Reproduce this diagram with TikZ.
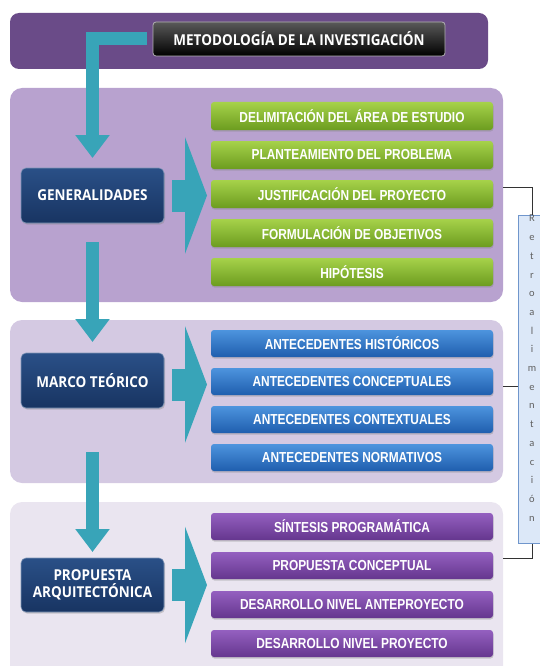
\documentclass[tikz,border=0pt]{standalone}
\usepackage{fontspec}
\setmainfont{Liberation Sans}
\newfontfamily\itemfont[FakeStretch=0.82]{Liberation Sans}
\newfontfamily\topicfont[FakeStretch=0.9]{Open Sans}
\newfontfamily\retrofont{Carlito}
\usetikzlibrary{positioning,arrows.meta,shadows}

\definecolor{bandpurple}{HTML}{6A4B88}
\definecolor{panelA}{HTML}{B8A2CF}
\definecolor{panelB}{HTML}{D4C9E2}
\definecolor{panelC}{HTML}{EAE5F0}
\definecolor{navytop}{HTML}{2A5087}
\definecolor{navybot}{HTML}{183462}
\definecolor{greentop}{HTML}{A6D24A}
\definecolor{greenbot}{HTML}{6C9C1F}
\definecolor{bluetop}{HTML}{4D94DE}
\definecolor{bluebot}{HTML}{1F5EAE}
\definecolor{violettop}{HTML}{9460C0}
\definecolor{violetbot}{HTML}{65368E}
\definecolor{arrowteal}{HTML}{38A4B8}
\definecolor{retrofill}{HTML}{DCE8F8}
\definecolor{retroline}{HTML}{7096CC}

\begin{document}
\begin{tikzpicture}[x=1pt, y=-1pt,
  node distance=11pt,
  every node/.style = {inner sep=0pt, outer sep=0pt, align=center},
  titlebox/.style = {rectangle, rounded corners=3pt, draw=gray!60, line width=0.8pt,
    top color=gray!70!black, bottom color=black,
    minimum width=292pt, minimum height=34pt,
    text=white, font=\topicfont\bfseries\fontsize{15}{17}\selectfont},
  topic/.style = {rectangle, rounded corners=5pt, draw=navytop!60!white, line width=0.6pt,
    top color=navytop, bottom color=navybot,
    minimum width=143pt, minimum height=55pt,
    drop shadow={opacity=0.35, shadow xshift=1pt, shadow yshift=-1.5pt},
    text=white, font=\topicfont\bfseries\fontsize{15}{17}\selectfont},
  item/.style = {rectangle, rounded corners=3pt,
    minimum width=282pt, minimum height=27pt,
    drop shadow={opacity=0.35, shadow xshift=0.5pt, shadow yshift=-1.5pt},
    text=white, font=\itemfont\bfseries\fontsize{14.5}{16}\selectfont},
  gitem/.style = {item, top color=greentop, bottom color=greenbot, minimum height=28pt},
  bitem/.style = {item, top color=bluetop, bottom color=bluebot},
  pitem/.style = {item, top color=violettop, bottom color=violetbot},
  downarrow/.style = {draw=arrowteal, line width=13pt,
    -{Triangle[width=33pt, length=23pt, fill=arrowteal]}},
  sidearrow/.style = {draw=arrowteal, line width=32pt,
    -{Triangle[width=116pt, length=22pt, fill=arrowteal]}},
  retrobox/.style = {rectangle, fill=retrofill, draw=retroline, line width=0.8pt,
    minimum width=28pt, minimum height=325pt,
    text=gray!75!black, font=\retrofont\fontsize{10.5}{18.7}\selectfont},
  link/.style = {draw=gray!40!black, line width=0.8pt}]

  \useasboundingbox (0,0) rectangle (539,666);

  % backgrounds
  \fill[bandpurple, rounded corners=9pt] (10,13) rectangle (488,69);
  \fill[panelA, rounded corners=12pt] (10,88) rectangle (503,302);
  \fill[panelB, rounded corners=12pt] (10,320) rectangle (503,483);
  \fill[panelC, rounded corners=12pt] (10,502) rectangle (503,690);

  \node[titlebox] (title) at (299,39) {METODOLOGÍA DE LA INVESTIGACIÓN};

  % left column
  \node[topic] (gen) at (92.5,195.5) {GENERALIDADES};
  \node[topic] (marco) at (92.5,380.5) {MARCO TEÓRICO};
  \node[topic, minimum height=54pt] (prop) at (92.5,585) {PROPUESTA\\ARQUITECTÓNICA};

  % generalidades
  \node[gitem] (delim) at (352,116) {DELIMITACIÓN DEL ÁREA DE ESTUDIO};
  \node[gitem, below=of delim] (plant) {PLANTEAMIENTO DEL PROBLEMA};
  \node[gitem, below=of plant] (just) {JUSTIFICACIÓN DEL PROYECTO};
  \node[gitem, below=of just] (formul) {FORMULACIÓN DE OBJETIVOS};
  \node[gitem, below=of formul] (hipo) {HIPÓTESIS};

  % marco teorico
  \node[bitem] (historicos) at (352,343.5) {ANTECEDENTES HISTÓRICOS};
  \node[bitem, below=of historicos] (conceptuales) {ANTECEDENTES CONCEPTUALES};
  \node[bitem, below=of conceptuales] (contextuales) {ANTECEDENTES CONTEXTUALES};
  \node[bitem, below=of contextuales] (normativos) {ANTECEDENTES NORMATIVOS};

  % propuesta
  \node[pitem] (sintesis) at (352,526.5) {SÍNTESIS PROGRAMÁTICA};
  \node[pitem, below=12pt of sintesis] (propconc) {PROPUESTA CONCEPTUAL};
  \node[pitem, below=12pt of propconc] (antepro) {DESARROLLO NIVEL ANTEPROYECTO};
  \node[pitem, below=12pt of antepro] (proyecto) {DESARROLLO NIVEL PROYECTO};

  % arrows
  \draw[downarrow, shorten <=6pt, shorten >=10pt] (title.west) -| (gen.north);
  \draw[downarrow, shorten <=19pt, shorten >=11pt] (gen.south) -- (marco.north);
  \draw[downarrow, shorten <=44pt, shorten >=6pt] (marco.south) -- (prop.north);
  \draw[sidearrow, shorten <=8pt, shorten >=4pt] (gen.east) -- (gen.east -| just.west);
  \draw[sidearrow, shorten <=8pt, shorten >=4pt] (marco.east) ++(0,4) -- (conceptuales.west |- 0,384.5);
  \draw[sidearrow, shorten <=8pt, shorten >=4pt] (prop.east) -- (prop.east -| propconc.west);

  % retroalimentacion
  \node[retrobox] (retro) at (532,379.5)
    {R\\e\\t\\r\\o\\a\\l\\i\\m\\e\\n\\t\\a\\c\\i\\ó\\n\\[4pt]};
  \coordinate (r1) at (503,187);
  \coordinate (r2) at (503,386);
  \coordinate (r3) at (503,558);
  \draw[link] (r1) -| (retro.north);
  \draw[link] (r2) -- (r2 -| retro.west);
  \draw[link] (r3) -| (retro.south);
\end{tikzpicture}
\end{document}
